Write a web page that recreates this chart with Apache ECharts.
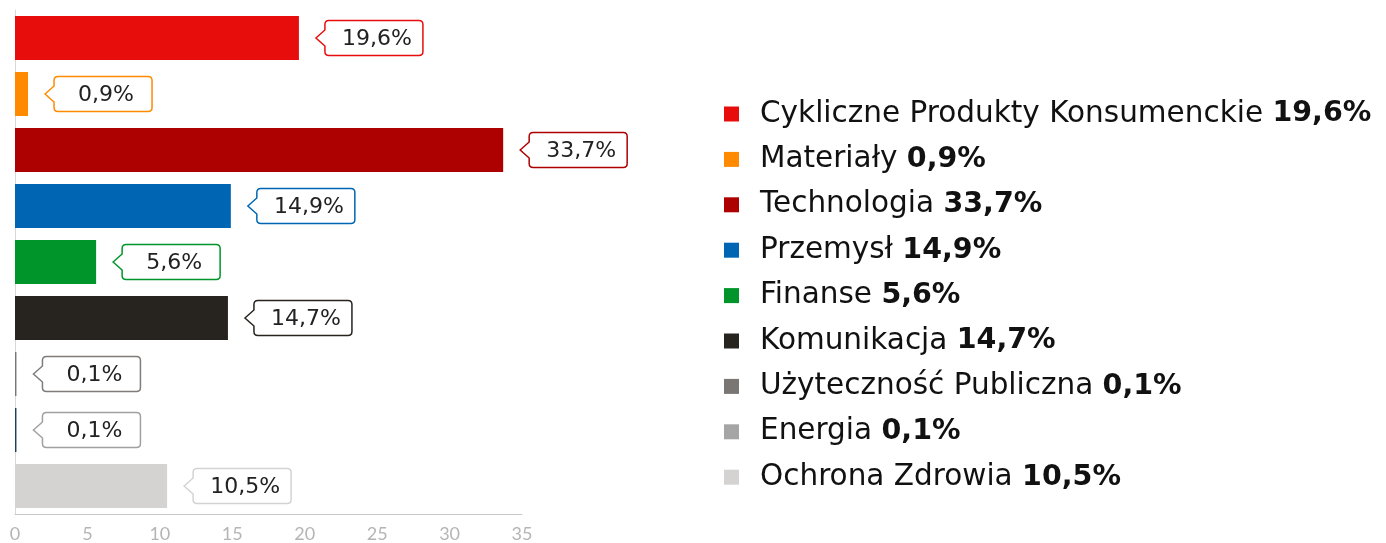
<!DOCTYPE html>
<html>
<head>
<meta charset="utf-8">
<script src="https://cdn.jsdelivr.net/npm/echarts@6/dist/echarts.min.js"></script>
<style>
  html, body { margin: 0; padding: 0; background: #fff; }
  #chart { width: 1386px; height: 543px; }
</style>
</head>
<body>
<div id="chart"></div>
<script>
  const sectors = ['Cykliczne Produkty Konsumenckie', 'Materiały', 'Technologia', 'Przemysł', 'Finanse',
    'Komunikacja', 'Użyteczność Publiczna', 'Energia', 'Ochrona Zdrowia'];
  const shares = [19.6, 0.9, 33.7, 14.9, 5.6, 14.7, 0.1, 0.1, 10.5];
  const barColors = ['#e80d0d', '#ff8a00', '#ad0000', '#0066b3', '#00952a', '#27231f', '#7a7673', '#1b4159', '#d4d3d1'];
  const legendColors = ['#e80d0d', '#ff8a00', '#ad0000', '#0066b3', '#00952a', '#27231f', '#7a7673', '#a5a5a5', '#d4d3d1'];
  const calloutColors = ['#e80d0d', '#ff8a00', '#ad0000', '#0066b3', '#00952a', '#27231f', '#807c79', '#a0a0a0', '#d4d3d1'];
  const axisTicks = [0, 35, 5]; // min, max, step

  const fmt = v => v.toFixed(1).replace('.', ',') + '%';

  const chart = echarts.init(document.getElementById('chart'));

  // one series per sector so the legend gets a colored entry each
  const barSeries = sectors.map((name, i) => ({
    name: name,
    type: 'bar',
    barWidth: 44,
    barGap: '-100%',
    itemStyle: { color: barColors[i] },
    data: shares.map((v, j) => (j === i ? v : '-'))
  }));

  // callout boxes with a small arrow pointing at the bar end
  const calloutSeries = {
    type: 'custom',
    silent: true,
    z: 5,
    data: shares.map((v, i) => [v, i]),
    renderItem: function (params, api) {
      const p = api.coord([api.value(0), api.value(1)]);
      const tip = p[0] + 17, y = p[1];
      const d = 9, a = 8, w = 98, h = 35, r = 4;
      const L = tip + d, R = L + w, T = y - h / 2, B = y + h / 2;
      const path = 'M' + tip + ' ' + y +
        ' L' + L + ' ' + (y - a) +
        ' L' + L + ' ' + (T + r) +
        ' Q' + L + ' ' + T + ' ' + (L + r) + ' ' + T +
        ' L' + (R - r) + ' ' + T +
        ' Q' + R + ' ' + T + ' ' + R + ' ' + (T + r) +
        ' L' + R + ' ' + (B - r) +
        ' Q' + R + ' ' + B + ' ' + (R - r) + ' ' + B +
        ' L' + (L + r) + ' ' + B +
        ' Q' + L + ' ' + B + ' ' + L + ' ' + (B - r) +
        ' L' + L + ' ' + (y + a) + ' Z';
      return {
        type: 'group',
        children: [
          {
            type: 'path',
            shape: { pathData: path },
            style: { fill: '#fff', stroke: calloutColors[params.dataIndex], lineWidth: 1.5 }
          },
          {
            type: 'text',
            style: {
              x: L + w / 2 + 3,
              y: y + 1,
              text: fmt(api.value(0)),
              align: 'center',
              verticalAlign: 'middle',
              fill: '#222',
              fontFamily: 'DejaVu Sans',
              fontSize: 22
            }
          }
        ]
      };
    }
  };

  const option = {
    animation: false,
    grid: { left: 15, right: 864, top: 10, bottom: 27, containLabel: false },
    legend: {
      orient: 'vertical',
      left: 719,
      top: 94,
      itemWidth: 15,
      itemHeight: 15,
      itemGap: 15.4,
      icon: 'rect',
      selectedMode: false,
      data: sectors.map((name, i) => ({ name: name, itemStyle: { color: legendColors[i] } })),
      formatter: function (name) {
        return name + ' {b|' + fmt(shares[sectors.indexOf(name)]) + '}';
      },
      textStyle: {
        fontFamily: 'DejaVu Sans',
        fontSize: 29.5,
        color: '#111',
        lineHeight: 30,
        padding: [0, 0, 0, 16],
        rich: {
          b: { fontFamily: 'DejaVu Sans', fontSize: 28.5, fontWeight: 'bold', color: '#111', lineHeight: 30 }
        }
      }
    },
    xAxis: {
      type: 'value',
      min: axisTicks[0],
      max: axisTicks[1],
      interval: axisTicks[2],
      axisLine: { show: true, lineStyle: { color: '#c8c8c8', width: 1 } },
      axisTick: { show: false },
      splitLine: { show: false },
      axisLabel: { color: '#b5b5b5', fontFamily: 'Lato', fontSize: 18, margin: 11 }
    },
    yAxis: {
      type: 'category',
      inverse: true,
      data: sectors,
      axisLine: { show: true, lineStyle: { color: '#d8d8d8', width: 1 } },
      axisTick: { show: false },
      axisLabel: { show: false }
    },
    series: barSeries.concat([calloutSeries])
  };

  chart.setOption(option);
</script>
</body>
</html>
